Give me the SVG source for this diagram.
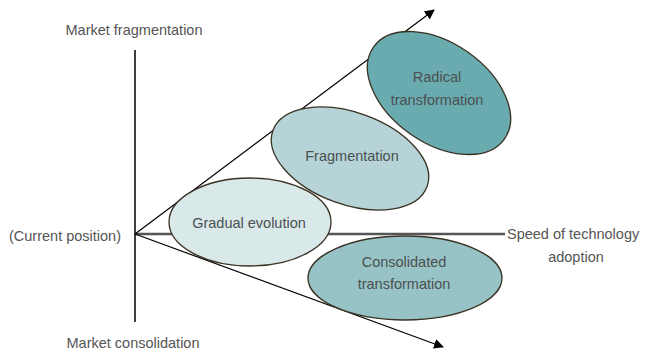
<svg xmlns="http://www.w3.org/2000/svg" width="645" height="353" viewBox="0 0 645 353">
  <style>
    .lbl { font-family: "Liberation Sans", Arial, sans-serif; font-size: 14.5px; fill: #555555; }
    .in { font-family: "Liberation Sans", Arial, sans-serif; font-size: 14.5px; fill: #4a5050; text-anchor: middle; }
    .ell { stroke: #3a3222; stroke-width: 1.3; }
    .arr { stroke: #000000; stroke-width: 1.2; fill: none; marker-end: url(#head); }
  </style>
  <defs>
    <marker id="head" viewBox="0 0 10 10" refX="9" refY="5" markerWidth="10" markerHeight="10" markerUnits="userSpaceOnUse" orient="auto">
      <path d="M0,0 L10,5 L0,10 Z" fill="#000000"/>
    </marker>
  </defs>
  <rect width="645" height="353" fill="#ffffff"/>

  <g id="connectors">
    <line x1="135" y1="50" x2="135" y2="322" stroke="#000000" stroke-width="1.5"/>
    <line x1="135" y1="234" x2="505" y2="234" stroke="#555555" stroke-width="2.5"/>
    <line class="arr" x1="135" y1="234" x2="434" y2="10"/>
    <line class="arr" x1="135" y1="234" x2="443" y2="347"/>
  </g>

  <g id="axis-labels">
    <text class="lbl" x="134" y="35" text-anchor="middle">Market fragmentation</text>
    <text class="lbl" x="133" y="348" text-anchor="middle">Market consolidation</text>
    <text class="lbl" x="121" y="241" text-anchor="end">(Current position)</text>
    <text class="lbl" x="507" y="239">Speed of technology</text>
    <text class="lbl" x="576" y="262" text-anchor="middle">adoption</text>
  </g>

  <g id="node-gradual">
    <ellipse class="ell" cx="250" cy="222" rx="81" ry="44" fill="#d9e8e9"/>
    <text class="in" x="249" y="228">Gradual evolution</text>
  </g>

  <g id="node-fragmentation">
    <ellipse class="ell" cx="350" cy="158.5" rx="82" ry="46" transform="rotate(20 350 158.5)" fill="#b6d4d8"/>
    <text class="in" x="352" y="161">Fragmentation</text>
  </g>

  <g id="node-radical">
    <ellipse class="ell" cx="439" cy="93" rx="80" ry="50" transform="rotate(35 439 93)" fill="#6aabb0"/>
    <text class="in" x="437" y="82">Radical</text>
    <text class="in" x="437" y="105">transformation</text>
  </g>

  <g id="node-consolidated">
    <ellipse class="ell" cx="405" cy="278" rx="97" ry="42" fill="#98c3c6"/>
    <text class="in" x="404" y="267">Consolidated</text>
    <text class="in" x="404" y="289">transformation</text>
  </g>
</svg>
